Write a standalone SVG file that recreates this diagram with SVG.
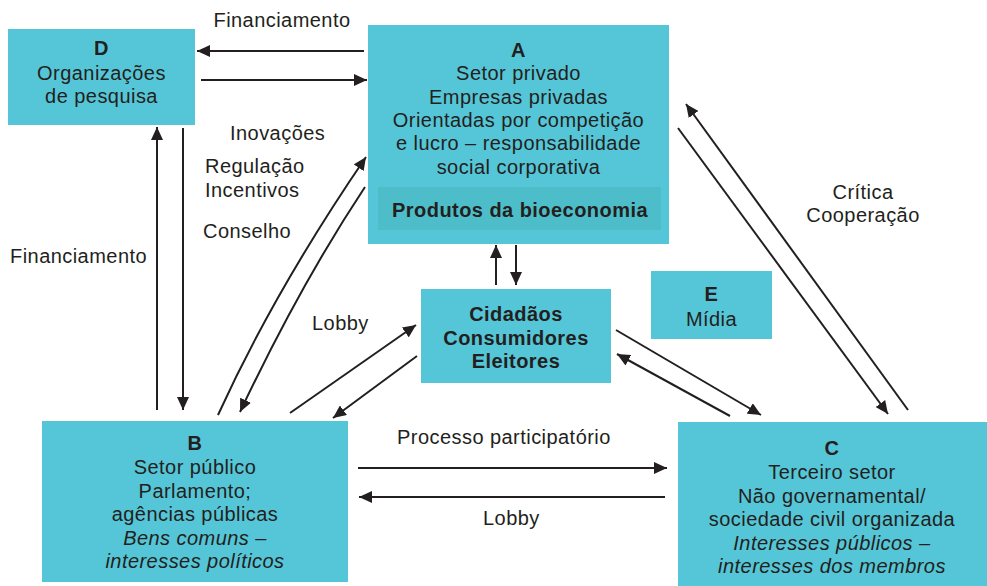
<svg xmlns="http://www.w3.org/2000/svg" width="987" height="586" viewBox="0 0 987 586">
<defs>
<style>
.box{fill:#55C6D7}
.band{fill:#4DBEC9}
text{font-family:"Liberation Sans",Arial,sans-serif;font-size:20px;fill:#231F20;letter-spacing:0.45px}
.c{text-anchor:middle}
.b{font-weight:bold}
.i{font-style:italic}
.ln{stroke:#231F20;stroke-width:2;fill:none;marker-end:url(#ah)}
</style>
<marker id="ah" markerUnits="userSpaceOnUse" markerWidth="14" markerHeight="12" refX="13" refY="6" orient="auto">
<path d="M0,0 L13,6 L0,12 Z" fill="#231F20"/>
</marker>
</defs>
<rect width="987" height="586" fill="#ffffff"/>

<g id="node-D">
<rect class="box" x="8" y="29" width="187" height="96"/>
<text class="c b" x="101.5" y="55">D</text>
<text class="c" x="101.5" y="80">Organizações</text>
<text class="c" x="101.5" y="103">de pesquisa</text>
</g>

<g id="node-A">
<rect class="box" x="368" y="25" width="301" height="219"/>
<rect class="band" x="378" y="187" width="283" height="43"/>
<text class="c b" x="518.5" y="57">A</text>
<text class="c" x="518.5" y="80">Setor privado</text>
<text class="c" x="518.5" y="104">Empresas privadas</text>
<text class="c" x="518.5" y="127">Orientadas por competição</text>
<text class="c" x="518.5" y="150">e lucro – responsabilidade</text>
<text class="c" x="518.5" y="174">social corporativa</text>
<text class="c b" x="520" y="217">Produtos da bioeconomia</text>
</g>

<g id="node-cidadaos">
<rect class="box" x="421" y="289" width="190" height="94"/>
<text class="c b" x="516" y="321">Cidadãos</text>
<text class="c b" x="516" y="345">Consumidores</text>
<text class="c b" x="516" y="368">Eleitores</text>
</g>

<g id="node-E">
<rect class="box" x="651" y="271" width="121" height="68"/>
<text class="c b" x="711.5" y="301">E</text>
<text class="c" x="711.5" y="326">Mídia</text>
</g>

<g id="node-B">
<rect class="box" x="42" y="421" width="306" height="161"/>
<text class="c b" x="195" y="450">B</text>
<text class="c" x="195" y="474">Setor público</text>
<text class="c" x="195" y="498">Parlamento;</text>
<text class="c" x="195" y="521">agências públicas</text>
<text class="c" x="195" y="545"><tspan class="i">Bens comuns</tspan> –</text>
<text class="c i" x="195" y="568">interesses políticos</text>
</g>

<g id="node-C">
<rect class="box" x="678" y="422" width="309" height="164"/>
<text class="c b" x="832" y="455">C</text>
<text class="c" x="832" y="479">Terceiro setor</text>
<text class="c" x="832" y="503">Não governamental/</text>
<text class="c" x="832" y="526">sociedade civil organizada</text>
<text class="c" x="832" y="550"><tspan class="i">Interesses públicos</tspan> –</text>
<text class="c i" x="832" y="573">interesses dos membros</text>
</g>

<g id="connectors">
<line class="ln" x1="364" y1="51" x2="197" y2="51"/>
<line class="ln" x1="201" y1="80" x2="367" y2="80"/>
<line class="ln" x1="157" y1="410" x2="157" y2="127"/>
<line class="ln" x1="183" y1="128" x2="183" y2="410"/>
<path class="ln" d="M218,415 Q275,290 366,157"/>
<path class="ln" d="M365,187 Q300,285 240,412"/>
<line class="ln" x1="290" y1="413" x2="416" y2="325"/>
<line class="ln" x1="417" y1="356" x2="333" y2="418"/>
<line class="ln" x1="496" y1="285" x2="496" y2="245"/>
<line class="ln" x1="516" y1="245" x2="516" y2="285"/>
<line class="ln" x1="616" y1="330" x2="761" y2="415"/>
<line class="ln" x1="730" y1="416" x2="617" y2="354"/>
<line class="ln" x1="908" y1="410" x2="686" y2="104"/>
<line class="ln" x1="678" y1="128" x2="888" y2="414"/>
<line class="ln" x1="358" y1="468" x2="667" y2="468"/>
<line class="ln" x1="665" y1="497" x2="359" y2="497"/>
</g>

<g id="labels">
<text class="c" x="282" y="27">Financiamento</text>
<text x="230" y="140">Inovações</text>
<text x="205" y="173">Regulação</text>
<text x="205" y="197">Incentivos</text>
<text x="203" y="238">Conselho</text>
<text x="10" y="263">Financiamento</text>
<text x="312" y="330">Lobby</text>
<text class="c" x="863" y="199">Crítica</text>
<text class="c" x="863" y="222">Cooperação</text>
<text x="397" y="444">Processo participatório</text>
<text x="483" y="525">Lobby</text>
</g>
</svg>
